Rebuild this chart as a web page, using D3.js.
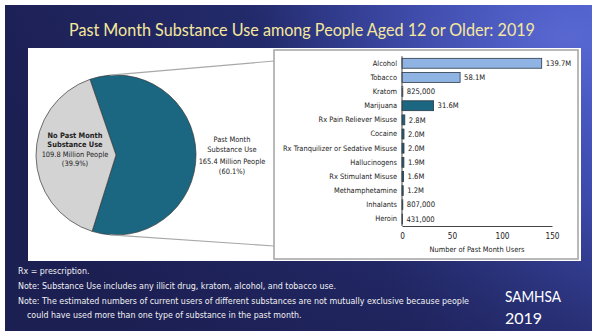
<!DOCTYPE html>
<html><head><meta charset="utf-8">
<script src="https://cdn.jsdelivr.net/npm/d3@7"></script>
<style>
html,body{margin:0;padding:0;background:#fff;}
svg{display:block;}
</style></head>
<body>
<svg id="c" width="592" height="335"></svg>
<script>
// ---- data ----
const substances = ["Alcohol","Tobacco","Kratom","Marijuana","Rx Pain Reliever Misuse","Cocaine","Rx Tranquilizer or Sedative Misuse","Hallucinogens","Rx Stimulant Misuse","Methamphetamine","Inhalants","Heroin"];
const usersMillions = [139.7,58.1,0.825,31.6,2.8,2.0,2.0,1.9,1.6,1.2,0.807,0.431];
const barGroup = ["legal","legal","legal","illicit","illicit","illicit","illicit","illicit","illicit","illicit","illicit","illicit"];
const xTicks = [0,50,100,150];
const pieLabels = ["Past Month Substance Use","No Past Month Substance Use"];
const pieValues = [165.4,109.8];
const piePercents = ["60.1%","39.9%"];
const title = "Past Month Substance Use among People Aged 12 or Older: 2019";
const notes = ["Rx = prescription.","Note: Substance Use includes any illicit drug, kratom, alcohol, and tobacco use.","Note: The estimated numbers of current users of different substances are not mutually exclusive because people","could have used more than one type of substance in the past month."];

const svg = d3.select("#c");
const narrow = "'Liberation Sans Narrow','Arial Narrow','DejaVu Sans Condensed',sans-serif";

// ---- background ----
const defs = svg.append("defs");
const lg = defs.append("linearGradient").attr("id","bg").attr("x1","0").attr("y1","0.3").attr("x2","1").attr("y2","0");
lg.append("stop").attr("offset","0").attr("stop-color","#1c1f52");
lg.append("stop").attr("offset","0.45").attr("stop-color","#232a6a");
lg.append("stop").attr("offset","1").attr("stop-color","#4858c8");
const rg = defs.append("radialGradient").attr("id","bg2").attr("cx","0.95").attr("cy","0.1").attr("r","0.5");
rg.append("stop").attr("offset","0").attr("stop-color","#6272da").attr("stop-opacity",0.7);
rg.append("stop").attr("offset","1").attr("stop-color","#4656c4").attr("stop-opacity",0);
const lg2 = defs.append("linearGradient").attr("id","bg3").attr("x1","0").attr("y1","0").attr("x2","0").attr("y2","1");
lg2.append("stop").attr("offset","0.6").attr("stop-color","#1c1f52").attr("stop-opacity",0);
lg2.append("stop").attr("offset","1").attr("stop-color","#1c1f52").attr("stop-opacity",0.5);
svg.append("rect").attr("x",5).attr("y",5).attr("width",587).attr("height",326).attr("fill","url(#bg)");
svg.append("rect").attr("x",5).attr("y",5).attr("width",587).attr("height",326).attr("fill","url(#bg2)");
svg.append("rect").attr("x",5).attr("y",5).attr("width",587).attr("height",326).attr("fill","url(#bg3)");

// title
svg.append("text").attr("x",302).attr("y",36).attr("text-anchor","middle")
  .attr("font-family","Lato,'Open Sans',sans-serif").attr("font-size",17)
  .attr("textLength",466).attr("lengthAdjust","spacingAndGlyphs")
  .attr("fill","#f6e89c").text(title);

// white panel
svg.append("rect").attr("x",28).attr("y",48).attr("width",553).attr("height",213).attr("fill","#fff");

// ---- pie ----
const cx = 116, cy = 155, r = 80;
const startA = -19*Math.PI/180;
const pie = d3.pie().sort(null).startAngle(startA).endAngle(startA+2*Math.PI);
const arcs = pie(pieValues);
const arc = d3.arc().innerRadius(0).outerRadius(r);
const pg = svg.append("g").attr("transform",`translate(${cx},${cy})`);
pg.selectAll("path").data(arcs).join("path").attr("d",arc)
  .attr("fill",(d,i)=>i===0?"#1b6681":"#d3d3d3")
  .attr("stroke","#3a3a3a").attr("stroke-width",0.7);

// box
const box = {x:274,y:50,w:304,h:209};
const pt = a => [cx + r*Math.sin(a), cy - r*Math.cos(a)];
const topP = pt(-4*Math.PI/180), botP = pt(184*Math.PI/180);
svg.append("line").attr("x1",topP[0]).attr("y1",topP[1]).attr("x2",box.x).attr("y2",61).attr("stroke","#a8a8a8").attr("stroke-width",1.2);
svg.append("line").attr("x1",botP[0]).attr("y1",botP[1]).attr("x2",box.x).attr("y2",246).attr("stroke","#a8a8a8").attr("stroke-width",1.2);
svg.append("rect").attr("x",box.x).attr("y",box.y).attr("width",box.w).attr("height",box.h)
  .attr("fill","#fff").attr("stroke","#a8a8a8").attr("stroke-width",1.6);

// pie labels
const fmtM = d3.format(".1f");
function pieLabel(x, lines, boldCount){
  const t = svg.append("text").attr("text-anchor","middle").attr("font-family",narrow).attr("font-size",7.4).attr("fill","#222");
  lines.forEach((l,i)=>{
    t.append("tspan").attr("x",x).attr("y",l.y).attr("font-weight",i<boldCount?"bold":"normal").text(l.t);
  });
}
pieLabel(75, [{t:"No Past Month",y:138},{t:"Substance Use",y:147},{t:fmtM(pieValues[1])+" Million People",y:157},{t:"("+piePercents[1]+")",y:166}], 2);
pieLabel(232, [{t:"Past Month",y:142},{t:"Substance Use",y:151.5},{t:fmtM(pieValues[0])+" Million People",y:164},{t:"("+piePercents[0]+")",y:173.5}], 0);

// ---- bar chart ----
const x = d3.scaleLinear().domain([0,150]).range([402,552]);
const y = d3.scaleBand().domain(substances).range([56.2,226]).paddingInner(0.3).paddingOuter(0.15);
const data = substances.map((s,i)=>({s, v:usersMillions[i], g:barGroup[i]}));

svg.append("g").selectAll("rect").data(data).join("rect")
  .attr("x",x(0)).attr("y",d=>y(d.s)).attr("width",d=>x(d.v)-x(0)).attr("height",y.bandwidth())
  .attr("fill",d=>d.g==="legal"?"#8fb4e3":"#1b6681")
  .attr("stroke","#2b3848").attr("stroke-width",0.8);

const lab = v => v<1 ? d3.format(",")(Math.round(v*1e6)) : d3.format(".1f")(v)+"M";
svg.append("g").selectAll("text").data(data).join("text")
  .attr("x",d=>x(d.v)+4).attr("y",d=>y(d.s)+y.bandwidth()/2).attr("dy","0.35em")
  .attr("font-family",narrow).attr("font-size",7.6).attr("fill","#222").text(d=>lab(d.v));

const ya = svg.append("g").attr("transform",`translate(${x(0)},0)`)
  .call(d3.axisLeft(y).tickSize(0).tickPadding(5));
ya.select(".domain").attr("d",`M0,${y.range()[0]}V${y.range()[1]}`).attr("stroke","#444");
ya.selectAll("text").attr("font-family",narrow).attr("font-size",7.4).attr("fill","#222");

const xa = svg.append("g").attr("transform",`translate(0,${y.range()[1]})`)
  .call(d3.axisBottom(x).tickValues(xTicks).tickSize(0).tickPadding(7));
xa.select(".domain").attr("stroke","#444");
xa.selectAll("text").attr("font-family",narrow).attr("font-size",8.2).attr("fill","#222");
svg.append("text").attr("x",477).attr("y",252).attr("text-anchor","middle")
  .attr("font-family",narrow).attr("font-size",7.4).attr("fill","#222").text("Number of Past Month Users");

// ---- notes ----
const noteY = [274,289,304,318];
const noteX = [18,18,18,27];
const noteLen = [null,318,451,null];
notes.forEach((n,i)=>{
  const t = svg.append("text").attr("x",noteX[i]).attr("y",noteY[i])
    .attr("font-family",narrow).attr("font-size",8.8).attr("fill","#f2f2f2").text(n);
  if(noteLen[i]) t.attr("textLength",noteLen[i]).attr("lengthAdjust","spacingAndGlyphs");
});
svg.append("text").attr("x",505).attr("y",302).attr("font-family","Lato,'Open Sans',sans-serif").attr("font-size",16)
  .attr("textLength",56).attr("lengthAdjust","spacingAndGlyphs").attr("fill","#fff").text("SAMHSA");
svg.append("text").attr("x",505).attr("y",324).attr("font-family","Lato,'Open Sans',sans-serif").attr("font-size",16).attr("fill","#fff").text("2019");
</script>
</body></html>
